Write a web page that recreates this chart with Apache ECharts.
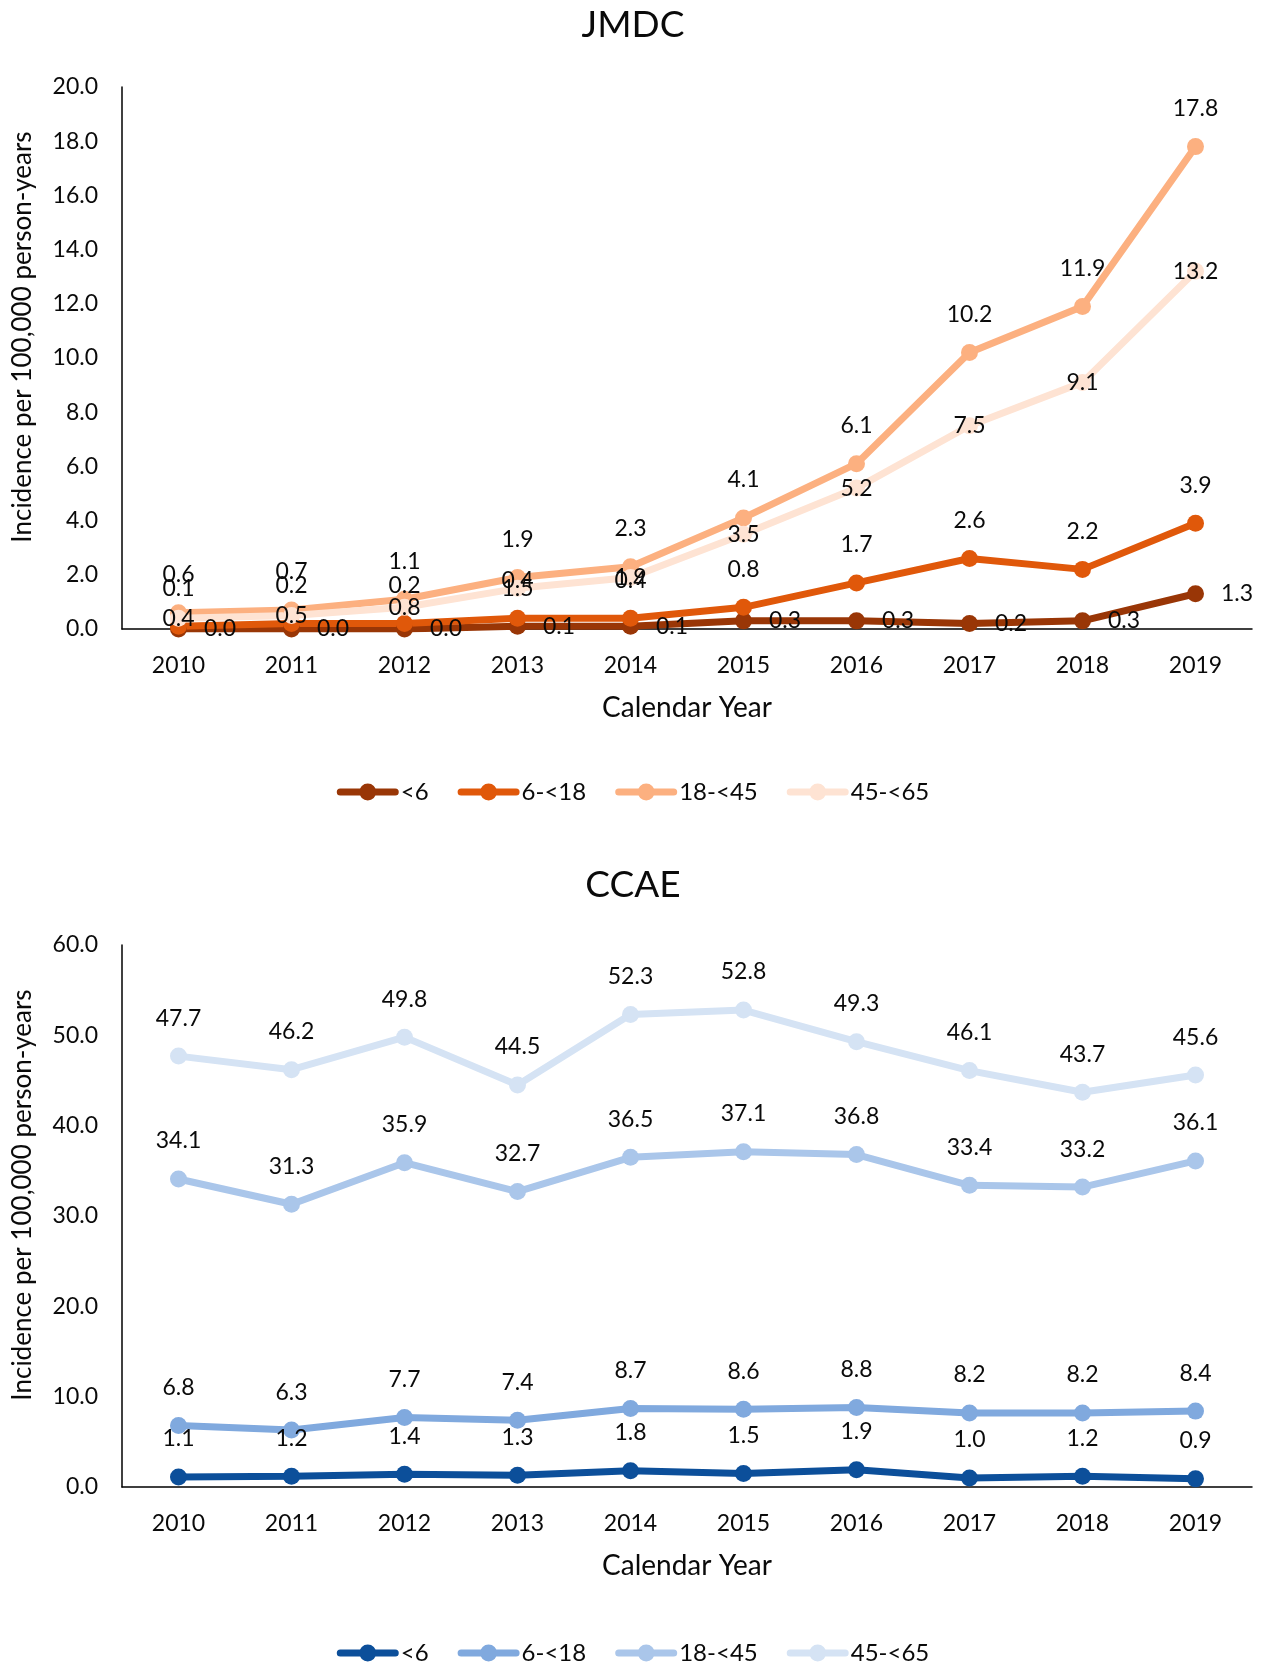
<!DOCTYPE html>
<html>
<head>
<meta charset="utf-8">
<script src="https://cdn.jsdelivr.net/npm/echarts@6/dist/echarts.min.js"></script>
<style>
html,body{margin:0;padding:0;background:#fff;}
#c1{position:absolute;left:0;top:0;width:1266px;height:830px;}
#c2{position:absolute;left:0;top:830px;width:1266px;height:833px;}
</style>
</head>
<body>
<div id="c1"></div>
<div id="c2"></div>
<script>
const years = ['2010','2011','2012','2013','2014','2015','2016','2017','2018','2019'];
const seriesNames = ['<6','6-<18','18-<45','45-<65'];

// JMDC
const jmdc_lt6   = [0.0,0.0,0.0,0.1,0.1,0.3,0.3,0.2,0.3,1.3];
const jmdc_6_18  = [0.1,0.2,0.2,0.4,0.4,0.8,1.7,2.6,2.2,3.9];
const jmdc_18_45 = [0.6,0.7,1.1,1.9,2.3,4.1,6.1,10.2,11.9,17.8];
const jmdc_45_65 = [0.4,0.5,0.8,1.5,1.9,3.5,5.2,7.5,9.1,13.2];

// CCAE
const ccae_lt6   = [1.1,1.2,1.4,1.3,1.8,1.5,1.9,1.0,1.2,0.9];
const ccae_6_18  = [6.8,6.3,7.7,7.4,8.7,8.6,8.8,8.2,8.2,8.4];
const ccae_18_45 = [34.1,31.3,35.9,32.7,36.5,37.1,36.8,33.4,33.2,36.1];
const ccae_45_65 = [47.7,46.2,49.8,44.5,52.3,52.8,49.3,46.1,43.7,45.6];

const jmdcColors = ['#993606','#e0580a','#fcb080','#fee3d3'];
const ccaeColors = ['#0c4f9a','#80a9de','#aac6ea','#d5e3f4'];

const FONT = 'Lato';
const TXT = '#0a0a0a';
const LEGEND_ICON = 'path://M3.5,5L58.5,5A3.5,3.5 0 0 1 58.5,12L3.5,12A3.5,3.5 0 0 1 3.5,5Z M31,0A8.5,8.5 0 1 1 31,17A8.5,8.5 0 1 1 31,0Z';

function makeSeries(name, data, color, labelPos) {
  return {
    name: name, type: 'line', data: data,
    symbol: 'circle', symbolSize: 17,
    lineStyle: {width: 7, color: color},
    itemStyle: {color: color},
    label: {
      show: true,
      position: labelPos,
      distance: labelPos === 'right' ? 17 : 18,
      fontFamily: FONT, fontSize: 23, color: TXT,
      formatter: p => p.value.toFixed(1)
    },
    emphasis: {disabled: true},
    animation: false
  };
}

function makeOption(title, maxV, interval, series, colors, titleTop, gridTop, legendTop) {
  return {
    animation: false,
    title: {
      text: title, left: 'center', top: titleTop,
      textStyle: {fontFamily: FONT, fontSize: 37, fontWeight: 'normal', color: TXT}
    },
    legend: {
      top: legendTop, left: 'center',
      icon: LEGEND_ICON,
      itemWidth: 62, itemHeight: 17, itemGap: 29,
      itemStyle: {borderWidth: 0},
      textStyle: {fontFamily: FONT, fontSize: 24, color: TXT, padding: [0,0,0,-3]},
      data: seriesNames
    },
    grid: {left: 122, width: 1130, top: gridTop, height: 542},
    xAxis: {
      type: 'category', data: years,
      axisLine: {lineStyle: {color: '#000', width: 1.5}},
      axisTick: {show: false},
      axisLabel: {fontFamily: FONT, fontSize: 23, color: TXT, margin: 25},
      name: 'Calendar Year', nameLocation: 'middle', nameGap: 65,
      nameTextStyle: {fontFamily: FONT, fontSize: 28, color: TXT}
    },
    yAxis: {
      type: 'value', min: 0, max: maxV, interval: interval,
      axisLine: {show: true, lineStyle: {color: '#000', width: 1.5}},
      axisTick: {show: false},
      splitLine: {show: false},
      axisLabel: {fontFamily: FONT, fontSize: 23, color: TXT, margin: 24,
                  formatter: v => v.toFixed(1)},
      name: 'Incidence per 100,000 person-years', nameLocation: 'middle', nameGap: 86,
      nameTextStyle: {fontFamily: FONT, fontSize: 26, color: TXT, padding: [0,0,0,42]}
    },
    color: colors,
    series: series
  };
}

const c1 = echarts.init(document.getElementById('c1'));
c1.setOption(makeOption('JMDC', 20, 2, [
  makeSeries(seriesNames[0], jmdc_lt6, jmdcColors[0], 'right'),
  makeSeries(seriesNames[1], jmdc_6_18, jmdcColors[1], 'top'),
  makeSeries(seriesNames[2], jmdc_18_45, jmdcColors[2], 'top'),
  makeSeries(seriesNames[3], jmdc_45_65, jmdcColors[3], 'inside')
], jmdcColors, 2, 87, 775));

const c2 = echarts.init(document.getElementById('c2'));
c2.setOption(makeOption('CCAE', 60, 10, [
  makeSeries(seriesNames[0], ccae_lt6, ccaeColors[0], 'top'),
  makeSeries(seriesNames[1], ccae_6_18, ccaeColors[1], 'top'),
  makeSeries(seriesNames[2], ccae_18_45, ccaeColors[2], 'top'),
  makeSeries(seriesNames[3], ccae_45_65, ccaeColors[3], 'top')
], ccaeColors, 32, 115, 806));
</script>
</body>
</html>
